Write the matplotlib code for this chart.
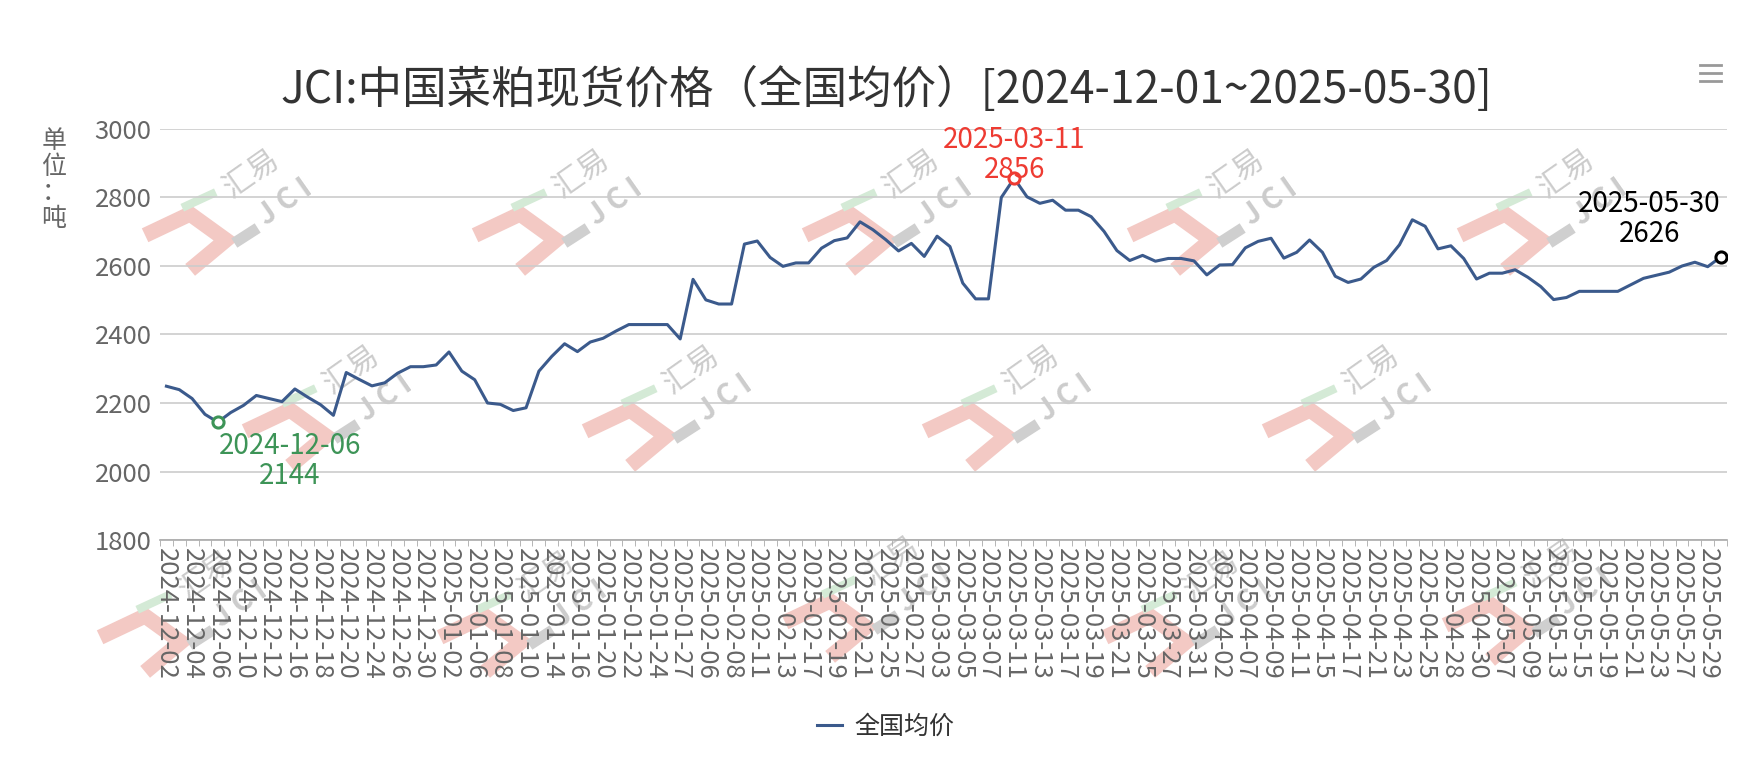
import matplotlib
matplotlib.use("Agg")
import matplotlib.pyplot as plt
from matplotlib.lines import Line2D
import numpy as np

plt.rcParams['font.family'] = ['Noto Sans CJK SC', 'DejaVu Sans']

W, H = 1758, 764

TITLE = "JCI:中国菜粕现货价格（全国均价）[2024-12-01~2025-05-30]"
SERIES_NAME = "全国均价"
Y_LABEL = "单位：吨"

dates = [
    "2024-12-02", "2024-12-03", "2024-12-04", "2024-12-05", "2024-12-06",
    "2024-12-09", "2024-12-10", "2024-12-11", "2024-12-12", "2024-12-13",
    "2024-12-16", "2024-12-17", "2024-12-18", "2024-12-19", "2024-12-20",
    "2024-12-23", "2024-12-24", "2024-12-25", "2024-12-26", "2024-12-27",
    "2024-12-30", "2024-12-31", "2025-01-02", "2025-01-03", "2025-01-06",
    "2025-01-07", "2025-01-08", "2025-01-09", "2025-01-10", "2025-01-13",
    "2025-01-14", "2025-01-15", "2025-01-16", "2025-01-17", "2025-01-20",
    "2025-01-21", "2025-01-22", "2025-01-23", "2025-01-24", "2025-01-26",
    "2025-01-27", "2025-02-05", "2025-02-06", "2025-02-07", "2025-02-08",
    "2025-02-10", "2025-02-11", "2025-02-12", "2025-02-13", "2025-02-14",
    "2025-02-17", "2025-02-18", "2025-02-19", "2025-02-20", "2025-02-21",
    "2025-02-24", "2025-02-25", "2025-02-26", "2025-02-27", "2025-02-28",
    "2025-03-03", "2025-03-04", "2025-03-05", "2025-03-06", "2025-03-07",
    "2025-03-10", "2025-03-11", "2025-03-12", "2025-03-13", "2025-03-14",
    "2025-03-17", "2025-03-18", "2025-03-19", "2025-03-20", "2025-03-21",
    "2025-03-24", "2025-03-25", "2025-03-26", "2025-03-27", "2025-03-28",
    "2025-03-31", "2025-04-01", "2025-04-02", "2025-04-03", "2025-04-07",
    "2025-04-08", "2025-04-09", "2025-04-10", "2025-04-11", "2025-04-14",
    "2025-04-15", "2025-04-16", "2025-04-17", "2025-04-18", "2025-04-21",
    "2025-04-22", "2025-04-23", "2025-04-24", "2025-04-25", "2025-04-27",
    "2025-04-28", "2025-04-29", "2025-04-30", "2025-05-06", "2025-05-07",
    "2025-05-08", "2025-05-09", "2025-05-12", "2025-05-13", "2025-05-14",
    "2025-05-15", "2025-05-16", "2025-05-19", "2025-05-20", "2025-05-21",
    "2025-05-22", "2025-05-23", "2025-05-26", "2025-05-27", "2025-05-28",
    "2025-05-29", "2025-05-30",
]

prices = [
    2249, 2239, 2213, 2167, 2144, 2172, 2193, 2222, 2213, 2204,
    2241, 2217, 2195, 2164, 2289, 2269, 2250, 2259, 2287, 2306,
    2306, 2311, 2349, 2293, 2268, 2200, 2196, 2178, 2186, 2293,
    2336, 2373, 2350, 2378, 2389, 2410, 2429, 2429, 2429, 2429,
    2387, 2561, 2501, 2489, 2489, 2664, 2673, 2625, 2599, 2609,
    2609, 2652, 2674, 2682, 2729, 2706, 2677, 2644, 2666, 2628,
    2687, 2657, 2550, 2504, 2504, 2800, 2856, 2802, 2783, 2792,
    2763, 2763, 2744, 2701, 2645, 2616, 2631, 2614, 2622, 2622,
    2615, 2574, 2603, 2604, 2653, 2672, 2681, 2623, 2640, 2676,
    2640, 2570, 2552, 2562, 2596, 2616, 2662, 2735, 2716, 2650,
    2659, 2622, 2562, 2579, 2579, 2589, 2567, 2540, 2502, 2508,
    2526, 2526, 2526, 2526, 2545, 2564, 2573, 2582, 2600, 2611,
    2598, 2626,
]

y_ticks = [1800, 2000, 2200, 2400, 2600, 2800, 3000]

# marked points: (date, colour, offset in pixels, vertical alignment)
marks = [
    ("2025-03-11", "#ee3b32", (0, -7), "bottom"),
    ("2024-12-06", "#3d9457", (72, -9), "top"),
    ("2025-05-30", "#000000", (-71, 8), "bottom"),
]

# watermark centres (figure pixels, y down)
wm_centres = [(230, 208), (560, 208), (890, 208), (1215, 208), (1545, 208),
              (330, 404), (670, 404), (1010, 404), (1350, 404),
              (185, 610), (525, 610), (870, 595), (1190, 610), (1530, 598)]


def fpx(x, y):
    return x / W, 1 - y / H


fig = plt.figure(figsize=(W / 100, H / 100), dpi=100)
fig.patch.set_facecolor("white")

# faint "汇易 JCI" watermarks
for cx, cy in wm_centres:
    chev = [(-78, 24), (-40, 6), (-4, 32), (-34, 57)]
    xs, ys = zip(*[fpx(cx + dx, cy + dy) for dx, dy in chev])
    fig.add_artist(Line2D(xs, ys, transform=fig.transFigure, color="#f3c9c4",
                          lw=11, solid_joinstyle="miter", zorder=-2))
    gx, gy = zip(*[fpx(cx + dx, cy + dy) for dx, dy in [(-44, -2), (-18, -14)]])
    fig.add_artist(Line2D(gx, gy, transform=fig.transFigure, color="#d4ead6",
                          lw=6, zorder=-2))
    dx_, dy_ = zip(*[fpx(cx + dx, cy + dy) for dx, dy in [(9, 32), (23, 23)]])
    fig.add_artist(Line2D(dx_, dy_, transform=fig.transFigure, color="#cfcfcf",
                          lw=8, zorder=-2))
    fig.text(*fpx(cx + 22, cy - 34), "汇易", rotation=35, fontsize=22,
             color="#cccccc", ha="center", va="center", zorder=-2)
    fig.text(*fpx(cx + 55, cy - 6), "J C I", rotation=35, fontsize=21,
             color="#cccccc", ha="center", va="center", zorder=-2,
             fontweight="bold")

ax = fig.add_axes([160 / W, 1 - 540 / H, (1727 - 160) / W, (540 - 129) / H])
ax.set_facecolor("none")

x = np.arange(len(dates))
ax.plot(x, prices, color="#3b5a8c", lw=2.2, label=SERIES_NAME, zorder=3)

for d, col, off, va in marks:
    i = dates.index(d)
    ax.plot(i, prices[i], "o", ms=8, mfc="white", mec=col, mew=2.2, zorder=4)
    ax.annotate(f"{d}\n{prices[i]}", (i, prices[i]), xytext=off,
                textcoords="offset pixels", ha="center", va=va,
                fontsize=20, color=col, linespacing=1.0, zorder=5)

ax.set_xlim(-0.5, len(dates) - 0.5)
ax.set_ylim(y_ticks[0], y_ticks[-1])
ax.set_yticks(y_ticks)
ax.yaxis.grid(True, color="#cccccc", lw=1.2)
ax.set_axisbelow(True)

ax.set_xticks(x[::2])
ax.set_xticklabels(dates[::2], rotation=270, fontsize=18.5, color="#666666")
ax.set_xticks(np.arange(-0.5, len(dates), 1), minor=True)
ax.tick_params(axis="x", which="major", length=0, pad=6)
ax.tick_params(axis="x", which="minor", length=4, color="#aaaaaa")
ax.tick_params(axis="y", length=0, labelsize=18.5, labelcolor="#666666", pad=6)

for s in ("top", "right", "left"):
    ax.spines[s].set_visible(False)
ax.spines["bottom"].set_color("#aaaaaa")
ax.spines["bottom"].set_linewidth(1.2)

fig.text(*fpx(886, 90), TITLE, ha="center", va="center", fontsize=32,
         color="#333333")
fig.text(*fpx(54, 180), "\n".join(Y_LABEL), ha="center", va="center",
         fontsize=18, color="#666666", linespacing=1.0)

ax.legend(loc="center", bbox_to_anchor=fpx(886, 727),
          bbox_transform=fig.transFigure, frameon=False, fontsize=18,
          handlelength=1.0, handletextpad=0.5, labelcolor="#333333")

# toolbox menu icon
for dy in (-8, 0, 8):
    lx, ly = zip(*[fpx(1700, 73 + dy), fpx(1721, 73 + dy)])
    fig.add_artist(Line2D(lx, ly, transform=fig.transFigure, color="#999999",
                          lw=2))

fig.savefig("out.png", dpi=100)
